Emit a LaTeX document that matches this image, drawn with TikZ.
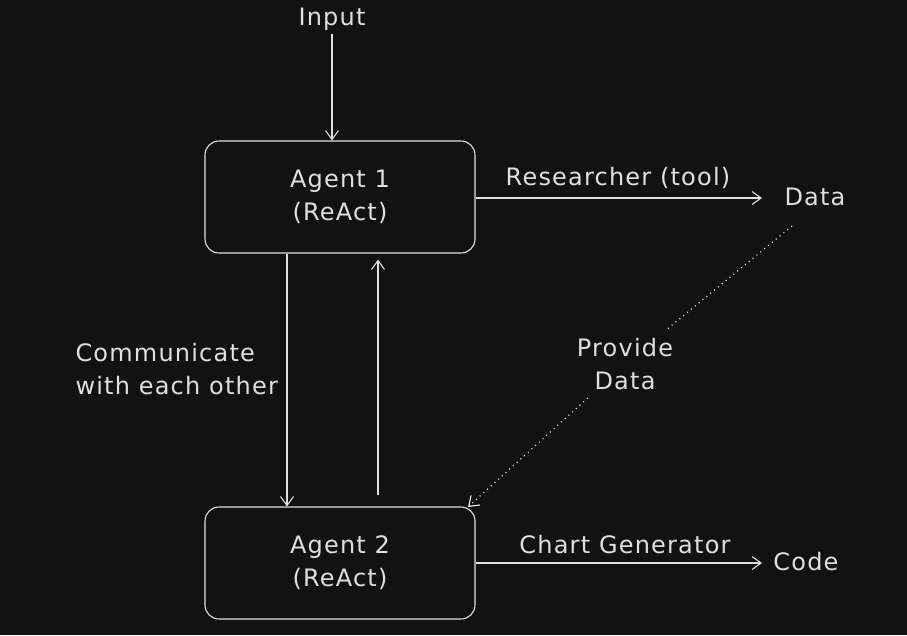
\documentclass[tikz,border=0pt]{standalone}
\usepackage{fontspec}
\setmainfont{DejaVu Sans}[LetterSpace=5]
\usetikzlibrary{arrows.meta}
\definecolor{bg}{HTML}{121212}
\definecolor{ink}{HTML}{E0E0E0}
\begin{document}
\begin{tikzpicture}[x=1pt,y=-1pt,
  agent/.style={draw=ink, rounded corners=14pt, minimum width=270pt, minimum height=112pt, align=center, text=ink, font=\fontsize{24}{33}\selectfont, line width=1.1pt},
  lbl/.style={text=ink, font=\fontsize{24}{33}\selectfont, align=center},
  flow/.style={draw=ink, line width=1.1pt, -{Straight Barb[length=9pt,width=13pt]}},
  dots/.style={draw=ink!80, line width=1.2pt, dash pattern=on 1pt off 4pt}]
\fill[bg] (0,0) rectangle (907,635);
\useasboundingbox (0,0) rectangle (907,635);
\node[agent] (agent1) at (340,197) {Agent 1\\(ReAct)};
\node[agent] (agent2) at (340,563) {Agent 2\\(ReAct)};
\node[lbl] (input) at (332,19) {Input};
\node[lbl] (data) at (815,197) {Data};
\node[lbl] (code) at (806,562) {Code};
\node[lbl] (research) at (618,178) {Researcher (tool)};
\node[lbl] (chart) at (625,545) {Chart Generator};
\node[lbl, inner sep=8pt] (provide) at (625,364) {Provide\\Data};
\node[lbl, align=left, anchor=west] (comm) at (72,369) {Communicate\\with each other};
\coordinate (dataend) at (762,198);
\coordinate (codeend) at (762,563);
\coordinate (dottop) at (792,226);
\coordinate (dotbot) at (468,507);
\draw[flow] (input.south) -- (agent1.north -| input);
\draw[flow] (agent1.east |- dataend) -- (dataend);
\draw[flow] (agent2.east |- codeend) -- (codeend);
\draw[flow] ([xshift=-53pt]agent1.south) -- ([xshift=-53pt]agent2.north);
\draw[flow] ([xshift=38pt,yshift=11pt]agent2.north) -- ([xshift=38pt,yshift=-6pt]agent1.south);
% dotted link, broken round its label
\draw[dots] (dottop) -- (provide);
\draw[dots, -{Straight Barb[length=9pt,width=13pt]}] (provide) -- (dotbot);
\end{tikzpicture}
\end{document}
